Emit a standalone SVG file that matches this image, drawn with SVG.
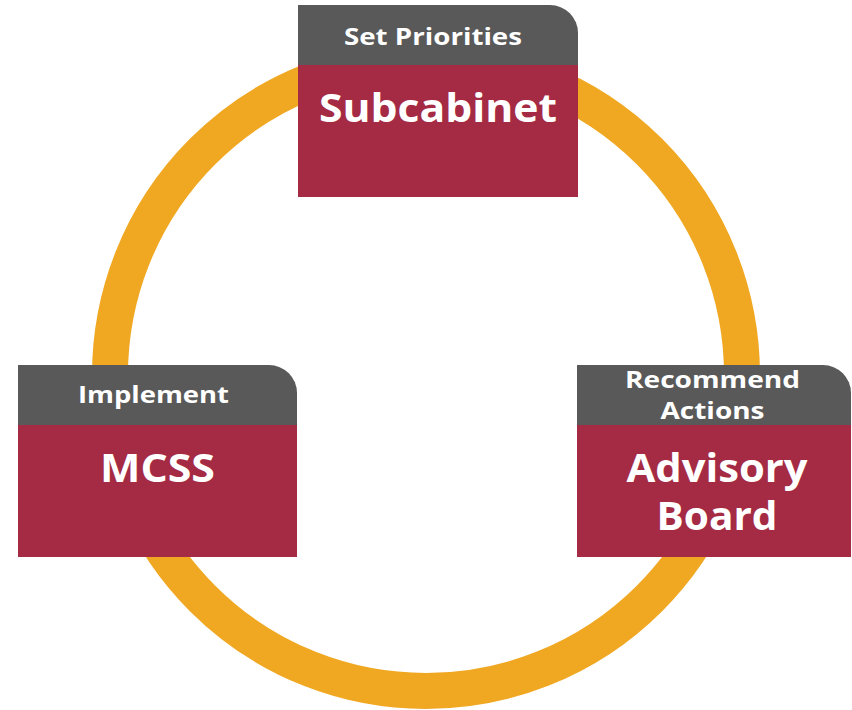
<svg xmlns="http://www.w3.org/2000/svg" width="852" height="710" viewBox="0 0 852 710">
<style>
.hdr{fill:#595959}
.body{fill:#A52A43}
.t{font-family:"Open Sans","Liberation Sans",sans-serif;font-weight:700;fill:#ffffff;text-anchor:middle}
.s{font-size:24px}
.b{font-size:39px}
</style>
<rect width="852" height="710" fill="#ffffff"/>
<g id="connectors">
<circle cx="426" cy="375" r="316" fill="none" stroke="#F0A823" stroke-width="36"/>
</g>
<g id="subcabinet">
<path class="hdr" d="M298 5 H550 A28 28 0 0 1 578 33 V66 H298 Z"/>
<rect class="body" x="298" y="65" width="280" height="132"/>
<text class="t s" x="433" y="45" textLength="178" lengthAdjust="spacingAndGlyphs">Set Priorities</text>
<text class="t b" x="438" y="122" textLength="238" lengthAdjust="spacingAndGlyphs">Subcabinet</text>
</g>
<g id="mcss">
<path class="hdr" d="M18 365 H269 A28 28 0 0 1 297 393 V426 H18 Z"/>
<rect class="body" x="18" y="425" width="279" height="132"/>
<text class="t s" x="153.5" y="403" textLength="151" lengthAdjust="spacingAndGlyphs">Implement</text>
<text class="t b" x="157.5" y="482" textLength="115" lengthAdjust="spacingAndGlyphs">MCSS</text>
</g>
<g id="advisory-board">
<path class="hdr" d="M577 365 H823 A28 28 0 0 1 851 393 V426 H577 Z"/>
<rect class="body" x="577" y="425" width="274" height="132"/>
<text class="t s" x="712.5" y="388" textLength="175" lengthAdjust="spacingAndGlyphs">Recommend</text>
<text class="t s" x="712.5" y="419" textLength="104" lengthAdjust="spacingAndGlyphs">Actions</text>
<text class="t b" x="717" y="482" textLength="181" lengthAdjust="spacingAndGlyphs">Advisory</text>
<text class="t b" x="717" y="530" textLength="121" lengthAdjust="spacingAndGlyphs">Board</text>
</g>
</svg>
